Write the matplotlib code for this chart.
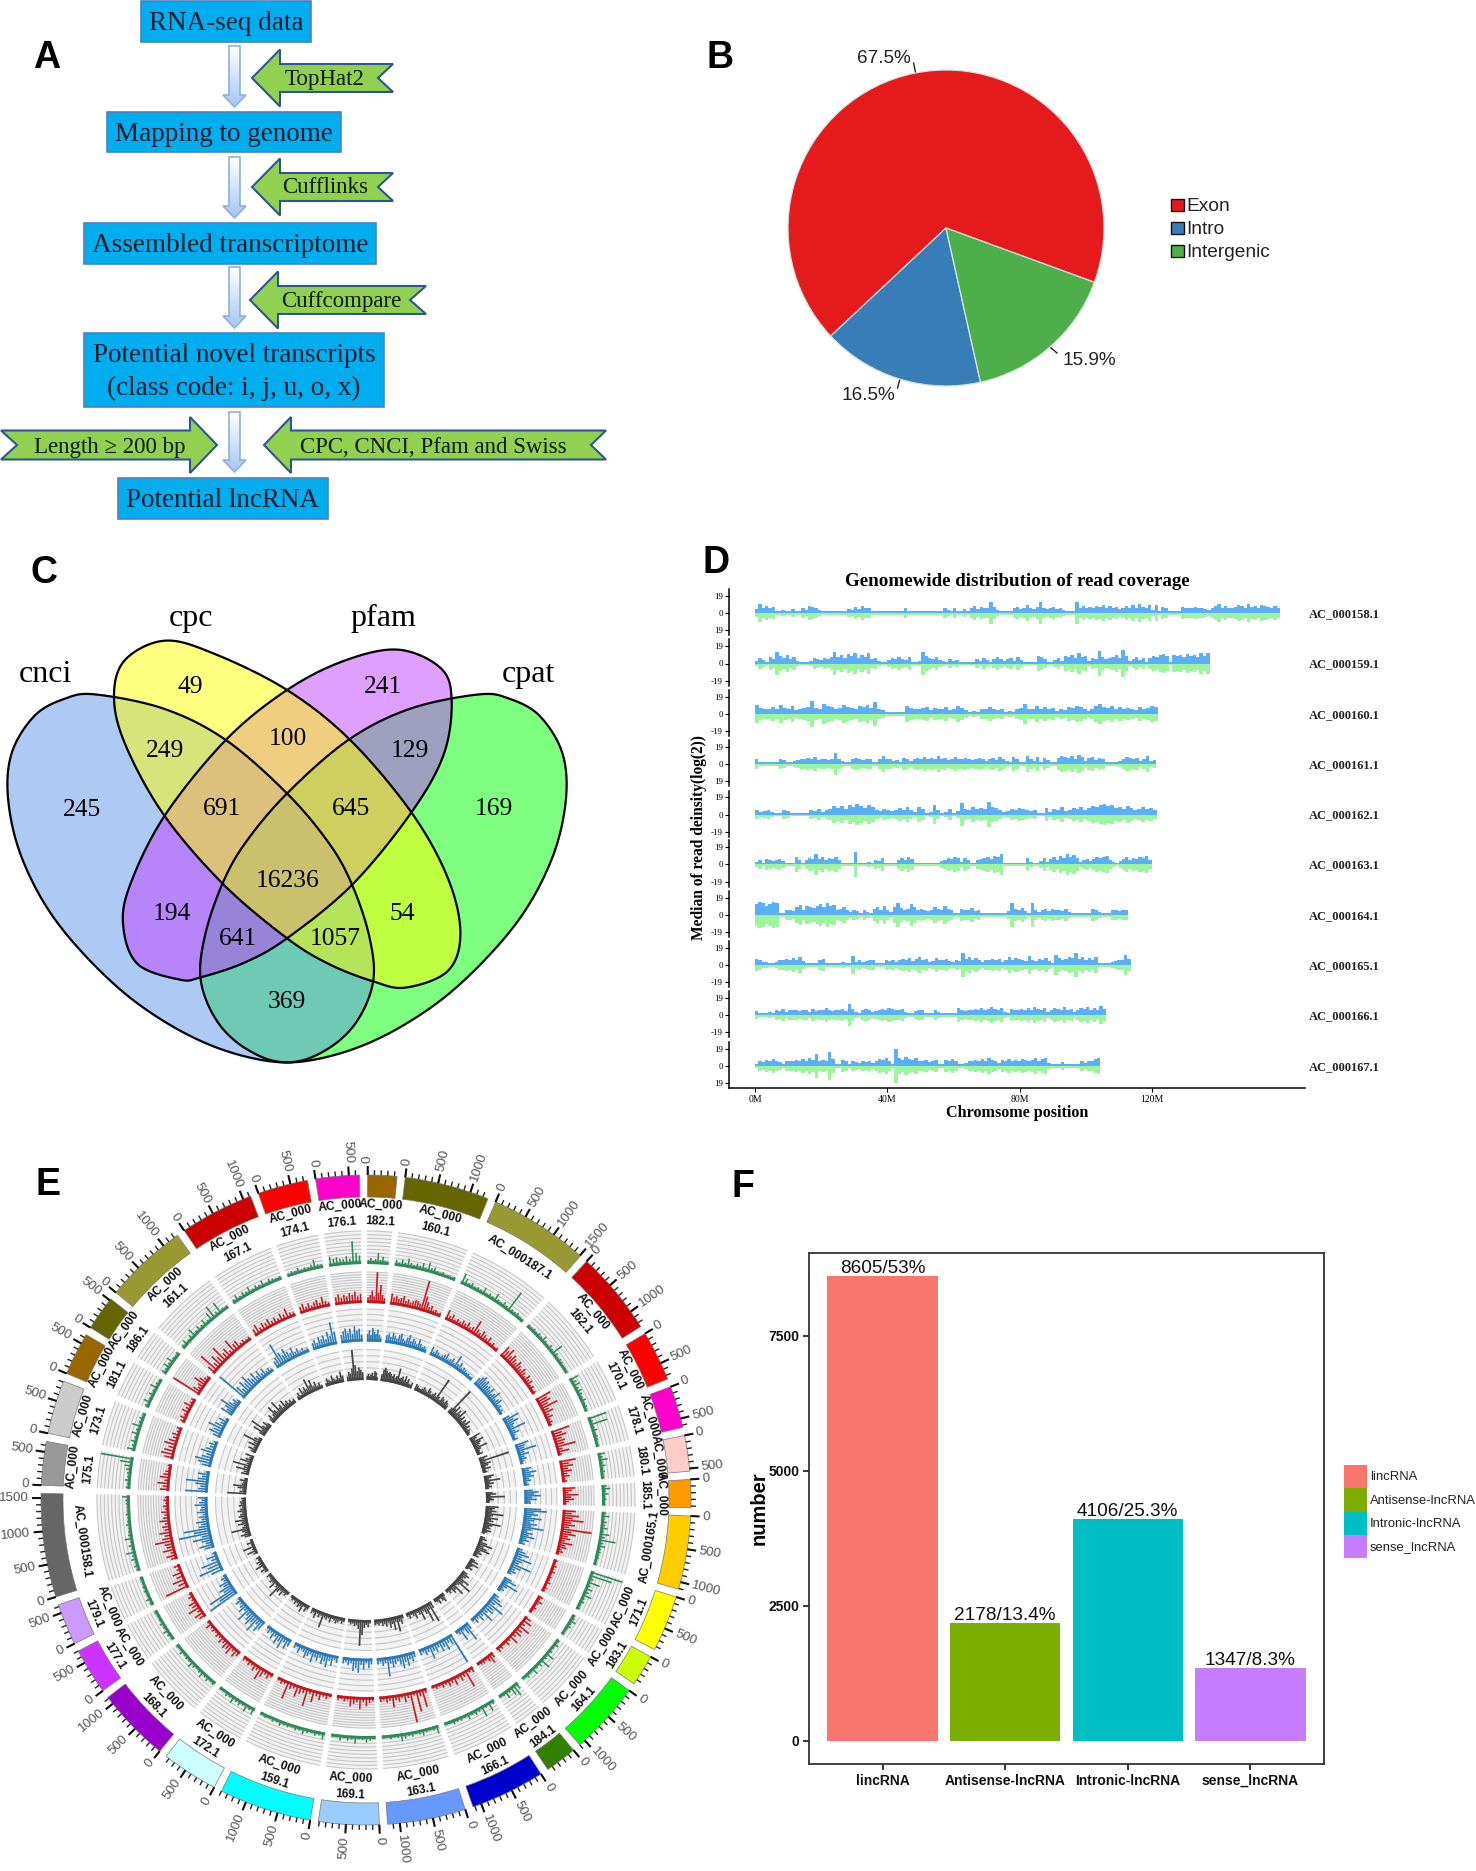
import numpy as np
import matplotlib
matplotlib.use('Agg')
import matplotlib.pyplot as plt
from matplotlib.patches import Polygon, Rectangle

W, H = 1476, 1871
SERIF = 'Liberation Serif'
SANS = 'Liberation Sans'

# ---- panel B
pie_labels = ['Exon', 'Intro', 'Intergenic']
pie_values = [67.5, 16.5, 15.9]
pie_colors = ['#e41a1c', '#377eb8', '#4daf4a']

# ---- panel C
venn_names = ['cnci', 'cpc', 'pfam', 'cpat']
venn_counts = [245, 49, 241, 169, 249, 100, 129, 691, 645, 16236, 194, 54, 641, 1057, 369]

# ---- panel D, values
chrom_names = ['AC_000158.1', 'AC_000159.1', 'AC_000160.1', 'AC_000161.1', 'AC_000162.1',
               'AC_000163.1', 'AC_000164.1', 'AC_000165.1', 'AC_000166.1', 'AC_000167.1']
chrom_len = [158.7, 137.4, 121.7, 121.2, 121.4, 119.9, 112.8, 113.6, 106.1, 104.4]
low_tick = ['19', '-19', '-19', '19', '-19', '-19', '-19', '-19', '-19', '19']
cov_158 = [4, 10, 6, 8, 5, 7, 2, 1, 3, 1, 1, 4, 2, 1, 6, 3, 8, 7, 5, 3, 1, 1, 1, 1, 1, 1, 1, 2, 4, 3, 7, 4, 8, 5, 6, 2, 1, 1, 1, 1, 1, 1, 2, 1, 1, 5, 1, 1, 1, 1, 1, 1, 1, 1, 2, 1, 1, 5, 3, 2, 6, 2, 1, 4, 2, 5, 8, 4, 7, 5, 6, 12, 7, 3, 1, 1, 1, 2, 5, 7, 4, 6, 9, 5, 4, 7, 12, 6, 4, 5, 7, 4, 5, 3, 2, 1, 1, 12, 6, 8, 5, 7, 6, 8, 7, 9, 6, 8, 5, 7, 4, 6, 8, 5, 9, 6, 10, 7, 5, 9, 3, 9, 2, 7, 5, 2, 1, 1, 1, 7, 5, 6, 5, 7, 5, 6, 4, 3, 5, 8, 10, 6, 8, 5, 6, 7, 9, 8, 6, 10, 7, 8, 6, 9, 8, 7, 6, 8, 5]
cov_159 = [3, 6, 4, 2, 7, 5, 13, 8, 6, 9, 5, 7, 3, 2, 1, 1, 3, 6, 5, 4, 6, 5, 7, 13, 7, 9, 6, 10, 8, 11, 6, 9, 7, 12, 5, 6, 3, 1, 1, 4, 6, 5, 7, 5, 4, 7, 1, 1, 3, 13, 8, 6, 5, 7, 4, 3, 2, 5, 3, 4, 2, 1, 1, 1, 2, 5, 3, 6, 4, 1, 5, 7, 5, 3, 5, 6, 3, 7, 4, 1, 1, 1, 1, 8, 7, 5, 1, 2, 4, 6, 3, 8, 7, 9, 6, 11, 7, 8, 3, 6, 5, 14, 7, 5, 6, 7, 9, 6, 15, 8, 3, 5, 7, 4, 6, 2, 6, 8, 7, 9, 10, 8, 2, 9, 8, 9, 7, 10, 8, 9, 7, 11, 8, 12]
cov_160 = [10, 7, 6, 5, 8, 6, 10, 7, 5, 9, 4, 5, 7, 8, 14, 7, 6, 11, 9, 8, 6, 7, 10, 8, 7, 6, 9, 8, 10, 7, 13, 5, 4, 2, 1, 1, 1, 2, 9, 7, 5, 6, 7, 8, 4, 7, 5, 6, 8, 4, 6, 9, 7, 4, 2, 3, 1, 6, 5, 8, 6, 4, 5, 2, 3, 1, 5, 7, 11, 6, 5, 9, 6, 8, 5, 7, 3, 6, 4, 8, 7, 9, 8, 6, 3, 5, 9, 11, 8, 7, 9, 6, 8, 5, 7, 6, 4, 8, 6, 7, 9, 8]
cov_161 = [5, 2, 1, 1, 1, 1, 1, 6, 4, 2, 1, 3, 4, 6, 5, 7, 5, 8, 4, 6, 5, 4, 6, 12, 5, 3, 1, 1, 5, 7, 5, 4, 6, 5, 1, 2, 5, 9, 6, 5, 3, 4, 2, 7, 6, 3, 5, 7, 6, 8, 5, 7, 6, 9, 5, 7, 4, 6, 8, 6, 5, 7, 5, 4, 6, 7, 5, 3, 6, 7, 4, 8, 5, 3, 2, 8, 6, 2, 1, 9, 5, 3, 8, 2, 7, 4, 1, 1, 7, 9, 8, 7, 9, 6, 10, 8, 3, 7, 8, 4, 7, 5, 2, 1, 1, 1, 3, 6, 8, 7, 5, 7, 3, 5, 9, 3, 4]
cov_162 = [5, 3, 4, 5, 3, 1, 1, 5, 4, 2, 1, 1, 2, 1, 5, 4, 6, 3, 5, 6, 9, 7, 9, 6, 10, 8, 11, 9, 7, 10, 8, 5, 4, 6, 5, 4, 5, 7, 5, 8, 5, 3, 8, 6, 2, 3, 10, 5, 2, 3, 6, 2, 4, 13, 6, 5, 8, 6, 7, 6, 14, 8, 7, 5, 3, 4, 6, 5, 7, 6, 5, 4, 5, 2, 1, 7, 3, 6, 5, 8, 4, 5, 7, 6, 8, 5, 7, 9, 8, 10, 11, 9, 10, 7, 8, 6, 9, 7, 5, 6, 8, 6, 7, 5]
cov_163 = [3, 5, 2, 6, 5, 4, 5, 6, 4, 2, 1, 1, 8, 5, 2, 5, 7, 6, 12, 6, 8, 5, 7, 6, 8, 5, 1, 1, 1, 1, 14, 1, 1, 1, 3, 2, 5, 4, 7, 1, 1, 1, 1, 5, 7, 5, 8, 6, 2, 1, 1, 1, 1, 1, 1, 1, 4, 5, 7, 6, 8, 7, 3, 7, 5, 1, 2, 5, 6, 7, 8, 6, 9, 8, 12, 2, 1, 1, 1, 1, 1, 2, 7, 3, 1, 2, 4, 7, 3, 6, 8, 5, 9, 7, 11, 8, 10, 7, 3, 5, 6, 4, 6, 8, 7, 8, 9, 5, 3, 1, 4, 6, 8, 5, 7, 6, 8, 7, 9, 5]
cov_164 = [12, 14, 13, 10, 12, 14, 13, 1, 1, 6, 5, 4, 9, 11, 6, 10, 9, 8, 10, 12, 9, 13, 10, 11, 5, 7, 9, 5, 3, 6, 4, 2, 5, 3, 2, 7, 9, 6, 10, 6, 3, 9, 13, 8, 5, 7, 12, 9, 6, 7, 5, 4, 6, 9, 7, 5, 10, 7, 6, 2, 1, 7, 6, 5, 8, 4, 6, 1, 1, 1, 1, 1, 1, 1, 2, 4, 13, 7, 5, 8, 4, 2, 13, 6, 3, 5, 7, 4, 7, 5, 6, 4, 7, 3, 2, 1, 1, 1, 1, 1, 7, 6, 3, 2, 1, 1, 6, 5, 4, 6, 5]
cov_165 = [7, 5, 3, 3, 2, 1, 3, 6, 5, 7, 5, 8, 6, 9, 4, 1, 1, 1, 1, 5, 7, 2, 1, 1, 1, 2, 3, 1, 2, 10, 3, 5, 3, 4, 5, 6, 2, 1, 1, 5, 4, 6, 3, 6, 7, 5, 8, 4, 7, 9, 5, 7, 3, 4, 8, 6, 5, 7, 4, 3, 5, 4, 13, 7, 9, 6, 8, 5, 3, 6, 5, 7, 5, 7, 3, 6, 9, 6, 8, 7, 5, 4, 10, 6, 4, 7, 5, 8, 4, 2, 11, 8, 6, 7, 9, 8, 13, 7, 9, 6, 8, 5, 9, 2, 1, 1, 2, 3, 4, 6, 5, 11, 7]
cov_166 = [4, 2, 2, 1, 3, 2, 6, 4, 7, 3, 6, 5, 6, 4, 5, 6, 3, 7, 4, 6, 5, 8, 5, 4, 6, 5, 7, 4, 12, 7, 3, 2, 6, 7, 5, 3, 4, 6, 7, 6, 8, 7, 5, 6, 7, 3, 1, 1, 4, 6, 5, 2, 1, 2, 6, 3, 2, 2, 1, 1, 2, 8, 6, 4, 6, 5, 7, 5, 8, 6, 7, 9, 7, 5, 8, 3, 1, 7, 6, 5, 7, 6, 8, 5, 9, 7, 6, 8, 3, 5, 8, 7, 6, 9, 5, 7, 3, 6, 8, 7, 9, 6, 8, 5, 10, 7]
cov_167 = [2, 6, 4, 7, 5, 8, 6, 4, 2, 5, 6, 5, 7, 6, 8, 5, 9, 7, 13, 6, 7, 5, 15, 8, 2, 1, 7, 5, 2, 5, 4, 3, 6, 4, 5, 3, 6, 8, 7, 9, 5, 1, 19, 9, 7, 10, 8, 7, 9, 5, 6, 7, 4, 5, 7, 2, 1, 7, 6, 8, 5, 2, 1, 3, 6, 5, 7, 5, 8, 6, 9, 7, 5, 3, 7, 5, 8, 6, 7, 5, 8, 7, 6, 7, 9, 6, 8, 9, 3, 1, 1, 1, 4, 2, 1, 1, 1, 1, 5, 3, 6, 5, 8, 9]
coverages = [cov_158, cov_159, cov_160, cov_161, cov_162, cov_163, cov_164, cov_165, cov_166, cov_167]

# ---- panel E, heights in percent of the track
sector_ids = ['182.1', '160.1', '000187.1', '162.1', '170.1', '178.1', '180.1', '185.1', '000165.1', '171.1',
              '183.1', '164.1', '184.1', '166.1', '163.1', '169.1', '159.1', '172.1', '168.1', '177.1',
              '179.1', '000158.1', '175.1', '173.1', '181.1', '186.1', '161.1', '167.1', '174.1', '176.1']
sector_len = [440, 1280, 1510, 1270, 760, 635, 540, 425, 1110, 850, 475, 1100, 480, 1130, 1185,
              915, 1400, 855, 1120, 700, 630, 1570, 660, 815, 650, 525, 1260, 1120, 760, 660]
sector_colors = ['#996600', '#666600', '#999933', '#cc0000', '#ff0000', '#ff00cc', '#ffcccc', '#ff9900', '#ffcc00', '#ffff00',
                 '#ccff00', '#00ff00', '#338000', '#0000cc', '#6699ff', '#99ccff', '#00ffff', '#ccffff', '#9900cc', '#cc33ff',
                 '#cc99ff', '#666666', '#999999', '#cccccc', '#996600', '#666600', '#999933', '#cc0000', '#ff0000', '#ff00cc']
track_black = [[14, 20, 12, 18, 24, 14, 30, 26, 12],
               [22, 38, 45, 36, 30, 34, 28, 22, 30, 18, 26, 52, 20, 24, 30, 18, 34, 16, 28, 14, 12, 20],
               [22, 18, 14, 12, 16, 24, 18, 14, 30, 22, 14, 18, 26, 16, 85, 22, 14, 30, 24, 18, 28, 22, 16],
               [20, 100, 26, 40, 18, 34, 22, 45, 18, 30, 14, 26, 18, 34, 16, 24, 12, 18, 14, 10],
               [38, 24, 16, 42, 30, 24, 18, 45, 20, 14, 12, 20],
               [30, 18, 100, 18, 34, 24, 14, 30, 12, 16],
               [34, 24, 16, 52, 18, 30, 14, 22, 12],
               [22, 34, 16, 62, 18, 26, 14, 12],
               [42, 30, 22, 36, 20, 60, 26, 18, 44, 22, 30, 16, 56, 30, 20, 26, 14, 30, 18, 12],
               [16, 24, 12, 30, 50, 22, 36, 48, 18, 26, 14, 20],
               [16, 30, 12, 36, 18, 14, 24, 10],
               [18, 30, 22, 16, 44, 26, 60, 18, 14, 48, 22, 30, 14, 20, 12],
               [14, 30, 22, 12, 26, 16, 12],
               [24, 70, 22, 60, 30, 18, 44, 22, 14, 30, 18, 12, 22, 14],
               [14, 30, 20, 52, 18, 44, 22, 34, 16, 28, 18, 24, 14, 20, 16, 18],
               [12, 24, 16, 26, 50, 85, 30, 18, 22, 14, 18, 12],
               [14, 20, 12, 18, 24, 16, 12, 26, 14, 20, 16, 52, 14, 22, 12, 30, 14, 18],
               [16, 26, 12, 34, 18, 24, 14, 20, 12, 16, 10],
               [12, 20, 14, 30, 16, 26, 52, 18, 12, 34, 16, 22, 14, 12, 18],
               [14, 24, 12, 34, 16, 22, 12, 16],
               [16, 34, 14, 42, 12, 24, 10],
               [22, 34, 18, 26, 60, 22, 16, 34, 20, 42, 18, 28, 22, 16, 30, 20, 14, 24, 18, 20, 14, 16],
               [62, 22, 14, 30, 45, 18, 14, 26, 12],
               [26, 18, 46, 22, 60, 16, 40, 24, 14, 30],
               [18, 30, 14, 36, 20, 60, 26, 14],
               [20, 46, 18, 62, 24, 14, 30, 16],
               [18, 30, 14, 22, 48, 28, 18, 52, 22, 30, 14, 36, 18, 26, 14, 20, 12, 16],
               [14, 24, 12, 34, 18, 30, 20, 52, 26, 42, 18, 30, 14, 22, 12],
               [12, 26, 18, 14, 30, 18, 14, 26, 16, 36, 22],
               [16, 30, 24, 40, 100, 50, 30, 42, 34, 26]]
track_blue = [[24, 34, 20, 42, 30, 24, 38, 22, 14],
              [24, 30, 20, 34, 26, 18, 30, 36, 22, 16, 28, 38, 20, 30, 24, 16, 34, 22, 14, 18, 12],
              [28, 14, 24, 18, 12, 16, 22, 30, 14, 18, 26, 14, 44, 18, 28, 14, 20, 16, 12, 14, 10, 12],
              [26, 34, 42, 30, 38, 26, 30, 22, 34, 18, 26, 40, 16, 24, 30, 14, 20, 12, 16, 10],
              [24, 52, 30, 44, 26, 20, 56, 18, 30, 14, 10, 16],
              [44, 30, 26, 62, 22, 34, 18, 24, 14, 10],
              [30, 22, 44, 26, 34, 18, 24, 12, 16],
              [26, 44, 30, 50, 24, 38, 18, 20],
              [52, 70, 30, 44, 24, 56, 34, 22, 44, 28, 66, 30, 18, 36, 24, 44, 20, 30, 14, 20],
              [18, 30, 44, 24, 58, 30, 22, 64, 34, 18, 26, 14],
              [26, 44, 18, 56, 24, 14, 20, 12],
              [18, 30, 44, 24, 60, 30, 36, 22, 48, 18, 30, 14, 24, 12],
              [24, 60, 30, 14, 44, 18, 12],
              [100, 30, 20, 40, 26, 36, 18, 30, 22, 44, 18, 26, 14, 20],
              [18, 30, 22, 40, 26, 44, 30, 18, 26, 34, 22, 60, 18, 26, 14, 20],
              [18, 30, 14, 34, 20, 44, 30, 40, 16, 24, 14, 20],
              [22, 14, 34, 20, 42, 26, 36, 18, 30, 22, 40, 16, 26, 34, 18, 14, 28, 12, 18],
              [24, 36, 18, 44, 26, 38, 18, 30, 14, 22, 12],
              [30, 44, 24, 56, 30, 46, 34, 24, 50, 18, 32, 22, 14, 26, 12],
              [100, 60, 90, 34, 46, 26, 36, 16, 22, 12],
              [40, 75, 44, 60, 24, 36, 14],
              [30, 46, 24, 34, 60, 30, 100, 52, 82, 34, 26, 40, 22, 30, 16, 34, 24, 20, 40, 26, 18, 30],
              [70, 30, 24, 40, 70, 34, 22, 36, 14],
              [30, 44, 55, 36, 24, 44, 30, 20, 26, 14],
              [26, 42, 30, 52, 34, 20, 30, 12],
              [40, 24, 34, 55, 30, 18, 26, 14],
              [100, 40, 24, 44, 30, 50, 34, 26, 40, 22, 34, 18, 30, 14, 20, 12],
              [24, 32, 75, 40, 28, 44, 30, 22, 36, 18, 26, 14, 20, 12, 14],
              [22, 30, 18, 34, 26, 36, 22, 44, 30, 70, 40],
              [26, 36, 44, 30, 42, 26, 48, 34, 40, 22]]
track_red = [[18, 26, 40, 22, 100, 34, 60, 28, 18],
             [36, 24, 30, 22, 26, 34, 20, 26, 18, 24, 30, 28, 22, 100, 50, 34, 20, 26, 14, 18, 12, 14],
             [34, 18, 26, 14, 20, 16, 24, 18, 28, 16, 22, 50, 24, 18, 30, 22, 16, 26, 12, 18, 10, 14],
             [40, 30, 44, 24, 36, 28, 20, 34, 24, 18, 30, 22, 14, 28, 18, 24, 12, 18, 10, 14],
             [54, 36, 44, 30, 60, 24, 36, 18, 26, 14, 18, 12],
             [62, 34, 46, 28, 36, 30, 66, 20, 40, 14],
             [54, 30, 42, 24, 36, 20, 26, 12, 16],
             [40, 30, 18, 50, 26, 36, 20, 12],
             [42, 30, 54, 34, 70, 30, 44, 26, 100, 34, 50, 26, 36, 20, 46, 24, 30, 16, 22, 12],
             [14, 10, 16, 12, 18, 10, 14, 12, 18, 10, 14, 12],
             [18, 12, 24, 14, 10, 16, 12, 10],
             [24, 34, 18, 44, 24, 30, 18, 36, 14, 22, 12, 16, 20],
             [20, 34, 22, 12, 16, 14, 10],
             [20, 14, 60, 18, 26, 14, 30, 18, 24, 14, 20, 12, 16, 10],
             [16, 60, 22, 70, 14, 100, 18, 30, 14, 24, 18, 40, 16, 22, 14, 18],
             [14, 20, 30, 16, 40, 18, 24, 32, 14, 18, 12, 16],
             [12, 20, 14, 28, 18, 40, 16, 60, 20, 26, 40, 16, 22, 60, 14, 18, 12],
             [14, 24, 16, 30, 45, 18, 26, 14, 20, 12, 16],
             [20, 30, 16, 36, 24, 30, 18, 26, 14, 20, 12, 18, 14, 26, 12],
             [24, 34, 18, 44, 24, 30, 14, 20, 12],
             [80, 30, 44, 26, 34, 16, 22],
             [22, 34, 18, 40, 26, 30, 60, 34, 24, 40, 22, 28, 18, 34, 22, 16, 26, 14, 20, 12, 18, 14],
             [30, 22, 40, 18, 34, 24, 18, 12, 14],
             [30, 44, 36, 24, 42, 30, 20, 26, 14, 18],
             [16, 22, 14, 26, 18, 30, 14, 16],
             [100, 30, 18, 24, 44, 30, 18, 14],
             [30, 70, 24, 44, 30, 60, 26, 34, 18, 50, 26, 30, 14, 18, 12, 14],
             [24, 34, 18, 28, 22, 30, 18, 24, 16, 28, 20, 36, 18, 14],
             [22, 30, 18, 26, 16, 24, 30, 18, 36, 20, 14],
             [26, 34, 22, 30, 24, 34, 28, 38, 22, 30]]
track_green = [[12, 18, 10, 16, 34, 14, 24, 12, 10],
               [18, 12, 22, 14, 28, 16, 12, 18, 14, 24, 12, 30, 16, 20, 12, 10, 14, 8, 10, 8, 12],
               [34, 22, 12, 18, 10, 14, 12, 24, 10, 16, 12, 28, 14, 10, 18, 12, 70, 14, 12, 16, 10, 8],
               [12, 10, 14, 10, 16, 12, 22, 14, 10, 18, 12, 40, 16, 10, 14, 12, 8, 10, 8],
               [30, 18, 24, 14, 20, 16, 12, 18, 10, 12, 8],
               [60, 14, 56, 12, 18, 10, 14, 12, 8, 10],
               [22, 14, 28, 12, 18, 10, 14, 8, 10],
               [16, 26, 12, 20, 10, 14, 8, 10],
               [14, 24, 10, 18, 14, 22, 12, 30, 18, 52, 16, 24, 12, 14, 10, 12, 8, 10],
               [100, 70, 16, 40, 14, 24, 18, 30, 12, 16, 10, 12],
               [10, 14, 22, 12, 16, 10, 8, 10],
               [12, 18, 10, 14, 30, 14, 36, 18, 12, 24, 10, 16, 8],
               [22, 40, 30, 14, 26, 12, 10],
               [14, 30, 12, 36, 14, 18, 12, 20, 10, 14, 12, 16, 8, 10],
               [26, 14, 10, 12, 20, 14, 10, 16, 12, 18, 24, 12, 10, 14, 8, 10],
               [10, 14, 20, 12, 10, 24, 12, 16, 10, 18, 8, 10],
               [22, 12, 16, 10, 14, 20, 12, 16, 10, 14, 12, 18, 10, 14, 8, 12, 8],
               [22, 14, 26, 12, 18, 14, 24, 12, 16, 8, 10],
               [14, 10, 18, 12, 22, 14, 10, 16, 24, 12, 14, 10, 18, 8, 12],
               [10, 14, 20, 12, 16, 10, 8, 12],
               [12, 18, 10, 14, 12, 8, 10],
               [12, 16, 10, 20, 14, 30, 12, 18, 10, 26, 14, 12, 10, 16, 12, 10, 14, 8, 10, 12, 14, 24],
               [14, 10, 18, 12, 14, 18, 24, 40, 100],
               [26, 14, 20, 12, 24, 14, 30, 12, 16, 10],
               [14, 24, 10, 18, 12, 26, 14, 10],
               [18, 12, 24, 14, 26, 12, 10, 14],
               [14, 20, 10, 18, 30, 12, 20, 14, 24, 12, 30, 44, 16, 40, 12, 10],
               [14, 22, 12, 18, 14, 24, 12, 18, 14, 22, 10, 18, 14, 10, 12],
               [10, 14, 12, 18, 10, 14, 12, 18, 30, 14, 12],
               [30, 22, 26, 20, 18, 26, 18, 70, 34, 26]]

# ---- panel F
bar_names = ['lincRNA', 'Antisense-lncRNA', 'Intronic-lncRNA', 'sense_lncRNA']
bar_values = [8605, 2178, 4106, 1347]
bar_text = ['8605/53%', '2178/13.4%', '4106/25.3%', '1347/8.3%']
bar_colors = ['#F8766D', '#7CAE00', '#00BFC4', '#C77CFF']

fig = plt.figure(figsize=(W / 100, H / 100), dpi=100, facecolor='white')


def px_axes(x0, y0, x1, y1, **kw):
    return fig.add_axes([x0 / W, 1 - y1 / H, (x1 - x0) / W, (y1 - y0) / H], **kw)


# page axes, y down, units are pixels of the figure
page = px_axes(0, 0, W, H)
page.set_xlim(0, W)
page.set_ylim(H, 0)
page.axis('off')

for letter, lx, ly in [('A', 47, 58), ('B', 720, 58), ('C', 44, 573), ('D', 716, 563), ('E', 48, 1185), ('F', 743, 1187)]:
    page.text(lx, ly, letter, family=SANS, weight='bold', size=27, ha='center', va='center')

# ---------- A: flow chart
boxes = [(141, 1, 311, 42, 'RNA-seq data'), (107, 112, 341, 152, 'Mapping to genome'),
         (84, 223, 376, 264, 'Assembled transcriptome'),
         (84, 333, 384, 407, 'Potential novel transcripts\n(class code: i, j, u, o, x)'),
         (118, 478, 328, 519, 'Potential lncRNA')]
for x0, y0, x1, y1, txt in boxes:
    page.add_patch(Rectangle((x0, y0), x1 - x0, y1 - y0, fc='#00aeef', ec='#4f81bd', lw=1.2))
    page.text((x0 + x1) / 2, (y0 + y1) / 2 + 2, txt, family=SERIF, size=19.5, ha='center', va='center',
              linespacing=1.42, color='#0a1a2a')

grad = np.linspace(0, 1, 64).reshape(-1, 1)
cmap_arrow = matplotlib.colors.LinearSegmentedColormap.from_list('arrow', ['#ffffff', '#a6c6f2'])
for y0, y1 in [(46, 107), (157, 218), (267, 328), (412, 472)]:
    pts = [(229, y0), (240, y0), (240, y1 - 12), (246, y1 - 12), (234.5, y1), (223, y1 - 12), (229, y1 - 12)]
    poly = Polygon(pts, closed=True, fc='none', ec='#8fb0dc', lw=1.2, zorder=3)
    page.add_patch(poly)
    im = page.imshow(grad, extent=(223, 246, y1, y0), cmap=cmap_arrow, aspect='auto', zorder=2)
    im.set_clip_path(poly)


def left_arrow(tip, base, tail, notch, yc, hh, sh):
    return [(tip, yc), (base, yc - hh), (base, yc - sh), (tail, yc - sh), (notch, yc),
            (tail, yc + sh), (base, yc + sh), (base, yc + hh)]


arrows = [(left_arrow(252, 280, 393, 378, 78, 28.5, 14), 'TopHat2', 325, 79),
          (left_arrow(252, 280, 393, 378, 187, 28.5, 14), 'Cufflinks', 325, 187),
          (left_arrow(250, 278, 426, 410, 300, 28.5, 14), 'Cuffcompare', 341, 301),
          (left_arrow(264, 291, 606, 591, 445, 28, 14.5), 'CPC, CNCI, Pfam and Swiss', 433, 447),
          (left_arrow(217, 190, 1, 17, 445, 28, 14.5), 'Length \u2265 200 bp', 110, 447)]
for pts, txt, tx, ty in arrows:
    page.add_patch(Polygon(pts, closed=True, fc='#92d050', ec='#2f5597', lw=1.5))
    page.text(tx, ty, txt, family=[SERIF, 'DejaVu Serif'], size=16.5, ha='center', va='center', color='#0a1a00')

# ---------- B: pie
ax_pie = px_axes(946 - 158, 228 - 158, 946 + 158, 228 + 158)
ax_pie.pie(pie_values, colors=pie_colors, startangle=-20.1, counterclock=True, radius=1,
           wedgeprops=dict(edgecolor='#d8e0e0', linewidth=0.9))
ax_pie.set_xlim(-1, 1)
ax_pie.set_ylim(-1, 1)
for txt, tx, ty, seg in [('67.5%', 884, 58, ((913.6, 63), (915.7, 73))),
                         ('16.5%', 868, 395, ((900, 379), (897.5, 388))),
                         ('15.9%', 1089, 360, ((1050, 347), (1057, 353)))]:
    page.text(tx, ty, txt, family=SANS, size=13.7, ha='center', va='center', color='#222222')
    page.plot([seg[0][0], seg[1][0]], [seg[0][1], seg[1][1]], color='#222222', lw=1)
for i, (name, col) in enumerate(zip(pie_labels, pie_colors)):
    y = 205 + 23 * i
    page.add_patch(Rectangle((1170.5, y - 6), 13.5, 12, fc=col, ec='#111111', lw=1))
    page.text(1186, y + 1, name, family=SANS, size=13.8, ha='left', va='center', color='#222222')


# ---------- C: venn
def closed_spline(zoom_pts, steps=24):
    # zoomed crop coordinates to figure pixels, then a closed Catmull-Rom curve
    p = np.array(zoom_pts, dtype=float)
    p = np.column_stack([p[:, 0] / 2.613, 540 + p[:, 1] / 2.9])
    out = []
    n = len(p)
    for i in range(n):
        p0, p1, p2, p3 = p[i - 1], p[i], p[(i + 1) % n], p[(i + 2) % n]
        for t in np.linspace(0, 1, steps, endpoint=False):
            out.append(0.5 * (2 * p1 + (p2 - p0) * t + (2 * p0 - 5 * p1 + 4 * p2 - p3) * t ** 2
                              + (3 * p1 - p0 - 3 * p2 + p3) * t ** 3))
    return np.array(out)


outline_cnci = [(250, 448), (430, 490), (590, 580), (750, 735), (860, 880), (920, 1000), (965, 1150), (975, 1280),
                (930, 1400), (850, 1480), (750, 1515), (600, 1485), (450, 1410), (300, 1290), (150, 1110), (60, 930),
                (22, 760), (30, 620), (90, 510), (170, 460)]
outline_cpat = [(1500 - x, y) for x, y in outline_cnci]
outline_cpc = [(430, 292), (560, 330), (750, 435), (915, 580), (1075, 790), (1170, 980), (1203, 1140), (1170, 1250),
               (1060, 1298), (975, 1280), (860, 1230), (750, 1155), (585, 1000), (430, 800), (330, 600), (298, 460), (325, 350)]
outline_pfam = [(1040, 318), (900, 350), (750, 435), (590, 580), (430, 800), (340, 1000), (322, 1120), (360, 1230),
                (470, 1275), (525, 1268), (640, 1225), (750, 1155), (920, 1000), (1075, 790), (1160, 620), (1180, 460), (1150, 370)]
for pts, col in [(outline_cpat, '#00ff00'), (outline_cnci, '#5f97ea'), (outline_pfam, '#c040ff'), (outline_cpc, '#ffff00')]:
    page.add_patch(Polygon(closed_spline(pts), closed=True, fc=col, alpha=0.5, ec='none'))
for pts in [outline_cpat, outline_cnci, outline_pfam, outline_cpc]:
    page.add_patch(Polygon(closed_spline(pts), closed=True, fc='none', ec='black', lw=1.6))

venn_count_pos = [(213, 778), (497, 420), (1000, 420), (1290, 775), (432, 607), (752, 570), (1072, 607), (580, 775),
                  (918, 775), (752, 983), (450, 1078), (1052, 1078), (622, 1150), (875, 1150), (750, 1335)]
for v, (zx, zy) in zip(venn_counts, venn_count_pos):
    page.text(zx / 2.613, 542 + zy / 2.9, str(v), family=SERIF, size=18.4, ha='center', va='center')
for name, (zx, zy) in zip(venn_names, [(118, 385), (500, 222), (1003, 222), (1382, 385)]):
    page.text(zx / 2.613, 542 + zy / 2.9, name, family=SERIF, size=23, ha='center', va='center')

# ---------- D: read coverage tracks
track_centres = [613, 663.5, 714, 764, 814.5, 864.5, 915, 965, 1015, 1066]
unit = 17.3 / 19
for i, c in enumerate(track_centres):
    ax = px_axes(729, c - 24, 1305, c + 22)
    ax.set_xlim(-(755 - 729) / 3.308, (1305 - 755) / 3.308)
    ax.set_ylim(-22 / unit, 24 / unit)
    L = chrom_len[i]
    vals = np.array(coverages[i], dtype=float)
    pos = (np.arange(len(vals)) + 0.5) * L / len(vals)
    wd = L / len(vals)
    ax.bar(pos, vals, width=wd, color='#5caef5', lw=0)
    ax.bar(pos, -vals, width=wd, color='#9cf59c', lw=0)
    ax.bar(L / 2, 2, width=L, color='#5caef5', lw=0)
    ax.bar(L / 2, -2, width=L, color='#9cf59c', lw=0)
    for s in ['top', 'right']:
        ax.spines[s].set_visible(False)
    ax.spines['left'].set_linewidth(1.1)
    ax.spines['bottom'].set_linewidth(1.1)
    ax.set_yticks([19, 0, -19])
    ax.set_yticklabels(['19', '0', low_tick[i]], family=SERIF, size=6.5)
    ax.tick_params(axis='y', length=3, width=0.8, pad=1.5)
    if i == len(track_centres) - 1:
        ax.set_xticks([0, 40, 80, 120])
        ax.set_xticklabels(['0M', '40M', '80M', '120M'], family=SERIF, size=7)
        ax.tick_params(axis='x', length=3, width=0.8, pad=2)
    else:
        ax.set_xticks([])
        ax.spines['bottom'].set_visible(False)
    ax.patch.set_alpha(0)
    page.text(1309, c + 1, chrom_names[i], family=SERIF, weight='bold', size=9, ha='left', va='center', color='#222222')
page.text(1017, 581, 'Genomewide distribution of read coverage', family=SERIF, weight='bold', size=13.7, ha='center', va='center')
page.text(1017, 1113, 'Chromsome position', family=SERIF, weight='bold', size=11.6, ha='center', va='center')
page.text(699, 838, 'Median of read deinsity(log(2))', family=SERIF, weight='bold', size=11.2, rotation=90, ha='center', va='center')

# ---------- E: circos plot on polar axes, r in figure pixels
CX, CY, RMAX = 366, 1500, 362
ax_c = px_axes(CX - RMAX, CY - RMAX, CX + RMAX, CY + RMAX, projection='polar')
ax_c.set_theta_zero_location('N')
ax_c.set_theta_direction(-1)
ax_c.set_rlim(0, RMAX)
ax_c.axis('off')
ax_c.patch.set_alpha(0)

GAP = 1.45
deg_per_unit = (360 - GAP * len(sector_len)) / sum(sector_len)
tracks = [(track_black, 120, 150.5, 5, '#444444'), (track_blue, 158.5, 191, 6, '#2a7ab8'),
          (track_red, 197, 228, 12, '#c4161c'), (track_green, 236, 269, 9, '#2e8b57')]
start = 0.3
for i, (sid, slen, col) in enumerate(zip(sector_ids, sector_len, sector_colors)):
    span = slen * deg_per_unit
    a0, a1 = np.radians(start), np.radians(start + span)
    mid = start + span / 2
    # ideogram block
    ax_c.bar((a0 + a1) / 2, 22, width=a1 - a0, bottom=303, color=col, edgecolor='#777777', linewidth=0.5)
    # ruler
    minor = np.arange(0, slen + 1, 100)
    major = np.arange(0, slen + 1, 500)
    ax_c.vlines(a0 + np.radians(minor * deg_per_unit), 325, 330, color='#222222', lw=1)
    ax_c.vlines(a0 + np.radians(major * deg_per_unit), 325, 334, color='#111111', lw=1.5)
    for m in major:
        th = start + m * deg_per_unit
        if th < 180:
            rot, ha = 90 - th, 'left'
        else:
            rot, ha = 270 - th, 'right'
        ax_c.text(np.radians(th), 337, str(int(m)), family=SANS, size=9.6, color='#555555', rotation=rot,
                  rotation_mode='anchor', ha=ha, va='center')
    # tracks
    for vals_all, r0, r1, rings, tcol in tracks:
        ax_c.bar((a0 + a1) / 2, r1 - r0, width=a1 - a0, bottom=r0, color='#f2f2f2', lw=0)
        arc = np.linspace(a0, a1, 30)
        for rr in np.linspace(r0, r1, rings + 1)[1:]:
            ax_c.plot(arc, np.full_like(arc, rr), color='#c6c6c6', lw=0.8)
        vals = np.array(vals_all[i], dtype=float)
        step = (a1 - a0) / len(vals)
        ax_c.bar((a0 + a1) / 2, 0.09 * (r1 - r0), width=a1 - a0, bottom=r0, color=tcol, lw=0, zorder=3)
        ax_c.bar(a0 + step * (np.arange(len(vals)) + 0.5), vals / 100 * (r1 - r0), width=1.5 / r0,
                 bottom=r0, color=tcol, lw=0, zorder=3)
    # name
    if mid < 90 or mid > 270:
        rot = -mid
    else:
        rot = 180 - mid
    label = 'AC_' + sid if len(sid) > 5 else 'AC_000\n' + sid
    ax_c.text(np.radians(mid), 287, label, family=SANS, weight='bold', size=8.6, rotation=rot, rotation_mode='anchor',
              ha='center', va='center', linespacing=1.5, color='#111111', zorder=5)
    start += span + GAP

# ---------- F: bars
ax_f = px_axes(809, 1253, 1324, 1764)
xs = np.arange(1, 5)
ax_f.bar(xs, bar_values, width=0.9, color=bar_colors)
ax_f.set_xlim(0.4, 4.6)
ax_f.set_ylim(-426, 9037)
ax_f.set_xticks(xs)
ax_f.set_xticklabels(bar_names, family=SANS, weight='bold', size=10, color='#111111')
ax_f.set_yticks([0, 2500, 5000, 7500])
ax_f.set_yticklabels(['0', '2500', '5000', '7500'], family=SANS, weight='bold', size=10, color='#111111')
ax_f.tick_params(length=4, width=1.1, pad=3)
for s in ax_f.spines.values():
    s.set_linewidth(1.3)
    s.set_color('#333333')
for x, v, t in zip(xs, bar_values, bar_text):
    ax_f.text(x, v - 20, t, family=SANS, size=13.7, ha='center', va='bottom', color='#111111')
page.text(759, 1508, 'number', family=SANS, weight='bold', size=14.5, rotation=90, ha='center', va='center')
for i, (name, col) in enumerate(zip(bar_names, bar_colors)):
    y0 = 1465 + 23.3 * i
    page.add_patch(Rectangle((1344, y0), 23, 23.3, fc=col, ec='none'))
    page.text(1370, y0 + 12.5, name, family=SANS, size=9.4, ha='left', va='center', color='#222222')

page.set_xlim(0, W)
page.set_ylim(H, 0)
fig.savefig('out.png', dpi=100)
